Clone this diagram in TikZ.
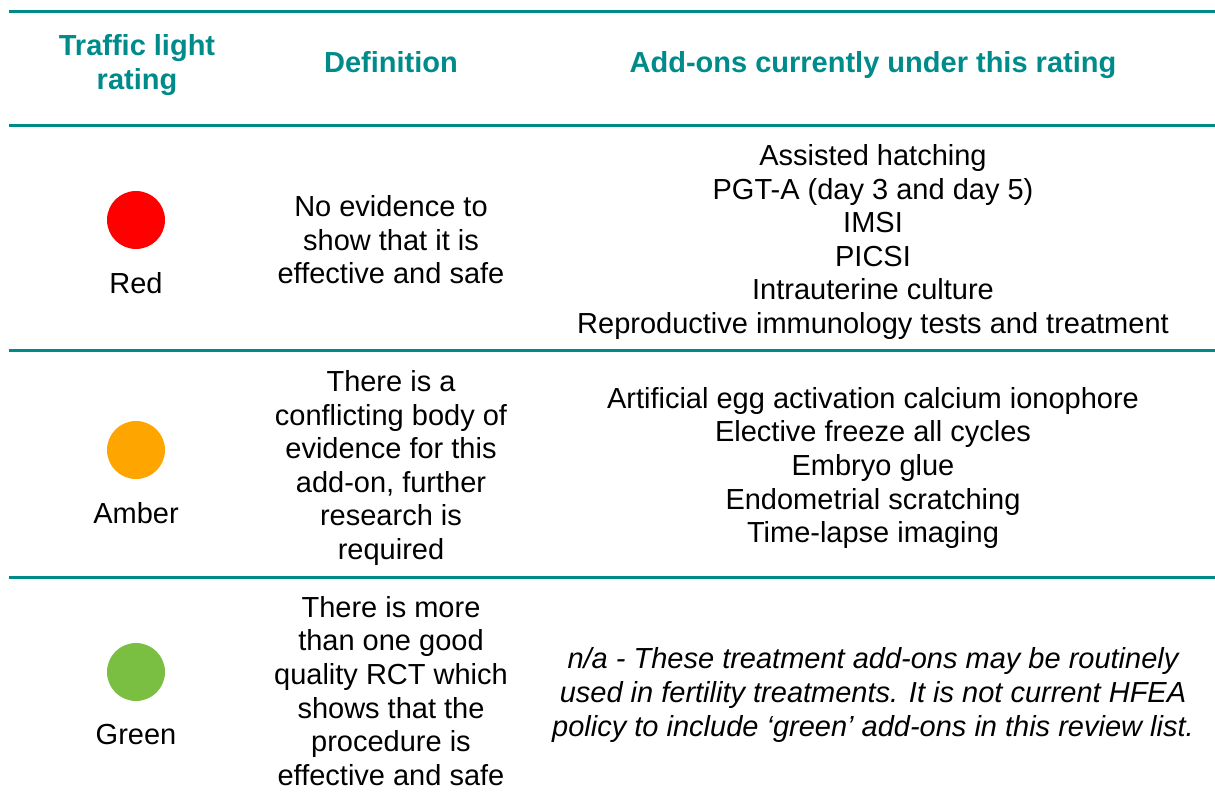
\documentclass[tikz,border=0pt]{standalone}
\usepackage{fontspec}
\setmainfont{Liberation Sans}
\usetikzlibrary{positioning}
\definecolor{hfeateal}{RGB}{0,139,139}
\definecolor{lampred}{RGB}{255,0,0}
\definecolor{lampamber}{RGB}{255,165,0}
\definecolor{lampgreen}{RGB}{122,190,66}
\tikzset{head/.style={text=hfeateal,font=\fontsize{14.5pt}{16.8pt}\selectfont\bfseries,align=center,inner sep=0pt},
  body/.style={font=\fontsize{14.5pt}{16.8pt}\selectfont,align=center,inner sep=0pt},
  lamp/.style={circle,minimum size=29pt,inner sep=0pt},
  rule/.style={hfeateal,line width=1.5pt} }

\begin{document}
\begin{tikzpicture}[x=0.5pt,y=-0.5pt]
\useasboundingbox (0,0) rectangle (1215,796);

  % header row
  \node[head] (h1) at (137,65) {Traffic light\\rating};
  \node[head] (h2) at (391,62) {Definition};
  \node[head] (h3) at (873,65) {Add-ons currently under this rating};

  % lights
  \node[lamp, fill=lampred] (red) at (136,220) {};
  \node[body] (redname) [below=11.5pt of red] {Red};
  \node[lamp, fill=lampamber] (amber) at (136,450) {};
  \node[body] (ambername) [below=11.5pt of amber] {Amber};
  \node[lamp, fill=lampgreen] (green) at (136,672) {};
  \node[body] (greenname) [below=11pt of green] {Green};

  % definitions
  \node[body] (reddef) at (391,240) {No evidence to\\show that it is\\effective and safe};
  \node[body] (amberdef) at (391,468) {There is a\\conflicting body of\\evidence for this\\add-on, further\\research is\\required};
  \node[body] (greendef) at (391,691) {There is more\\than one good\\quality RCT which\\shows that the\\procedure is\\effective and safe};

  % add-ons
  \node[body] (redlist) at (873,242) {Assisted hatching\\PGT-A (day 3 and day 5)\\IMSI\\PICSI\\Intrauterine culture\\Reproductive immunology tests and treatment};
  \node[body] (amberlist) at (873,468) {Artificial egg activation calcium ionophore\\Elective freeze all cycles\\Embryo glue\\Endometrial scratching\\Time-lapse imaging};
  \node[body, font=\fontsize{14.5pt}{16.8pt}\selectfont\itshape] (greenlist) at (873,695) {n/a - These treatment add-ons may be routinely\\used in fertility treatments. It is not current HFEA\\policy to include ‘green’ add-ons in this review list.};

  % rules
  \draw[rule] (9,12) -- (1215,12);
  \draw[rule] (9,126) -- (1215,126);
  \draw[rule] (9,351) -- (1215,351);
  \draw[rule] (9,577) -- (1215,577);
\end{tikzpicture}
\end{document}
